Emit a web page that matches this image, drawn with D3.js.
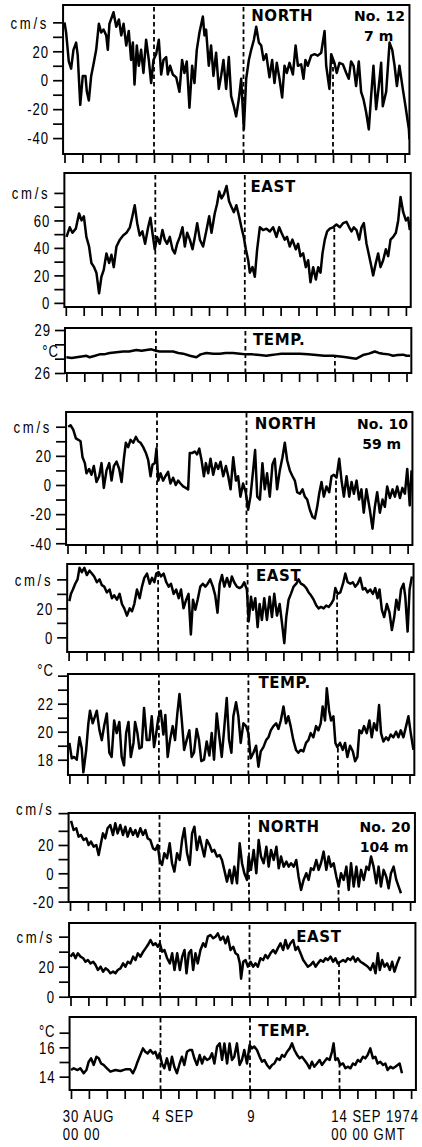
<!DOCTYPE html>
<html>
<head>
<meta charset="utf-8">
<script src="https://cdn.jsdelivr.net/npm/d3@7"></script>
<style>
  body { margin: 0; background: #fff; }
  svg { display: block; }
  .num { font-family: "Liberation Sans", Arial, sans-serif; font-size: 16px; letter-spacing: 1.2px; fill: #000; }
  .unit { letter-spacing: 3.3px; }
  .lab { font-family: "DejaVu Sans", sans-serif; font-weight: bold; font-size: 15px; letter-spacing: 0.6px; fill: #000; }
  .moor { font-family: "DejaVu Sans", sans-serif; font-weight: bold; font-size: 14px; fill: #000; }
</style>
</head>
<body>
<div id="chart"></div>
<script>
// time in days since 30 Aug 1974 00:00 GMT, value in cm/s or deg C

var n12North = [[0,40],[0.09,33],[0.24,13],[0.37,8],[0.50,21],[0.65,26],[0.74,17],[0.88,-17],[1.02,3],[1.17,3],[1.25,-8],[1.36,-14],[1.49,3],[1.62,11],[1.77,21],[1.92,39],[2.05,33],[2.18,35],[2.33,31],[2.42,21],[2.51,39],[2.74,47],[2.89,37],[3.04,42],[3.17,31],[3.30,39],[3.45,24],[3.59,34],[3.72,14],[3.82,26],[3.91,-3],[4.04,24],[4.15,10],[4.28,21],[4.41,5],[4.56,28],[4.71,14],[4.84,-2],[4.97,14],[5.12,18],[5.27,28],[5.40,4],[5.53,14],[5.68,16],[5.77,4],[5.90,10],[6.05,4],[6.24,2],[6.42,-8],[6.57,14],[6.70,5],[6.83,13],[6.98,-19],[7.13,10],[7.26,-2],[7.39,21],[7.54,33],[7.73,44],[7.82,31],[7.91,35],[8.06,10],[8.19,24],[8.32,3],[8.47,19],[8.62,-6],[8.75,3],[8.88,14],[9.03,-6],[9.18,16],[9.31,-11],[9.44,-17],[9.59,-25],[9.74,-13],[9.87,1],[10.02,-34],[10.15,1],[10.30,14],[10.43,21],[10.58,28],[10.71,37],[10.86,26],[10.99,24],[11.12,14],[11.27,18],[11.45,2],[11.60,14],[11.73,-2],[11.86,12],[12.01,1],[12.16,-12],[12.29,10],[12.42,5],[12.57,12],[12.76,4],[12.91,24],[13.04,10],[13.22,11],[13.35,1],[13.46,14],[13.59,10],[13.78,17],[13.97,18],[14.15,17],[14.34,19],[14.53,34],[14.62,10],[14.80,-6],[14.90,18],[15.08,12],[15.21,5],[15.36,12],[15.55,11],[15.74,5],[15.88,1],[16.01,13],[16.15,10],[16.29,-4],[16.44,13],[16.57,-8],[16.70,-13],[16.85,-22],[17.00,-34],[17.13,-11],[17.26,10],[17.41,-20],[17.56,-4],[17.69,12],[17.78,-18],[17.97,-8],[18.16,26],[18.31,21],[18.44,10],[18.57,-4],[18.71,10],[18.90,-6],[19.05,-18],[19.24,-34],[19.27,-41]];

var n12East = [[0.04,48],[0.22,55],[0.37,51],[0.56,54],[0.74,65],[0.88,60],[1.01,63],[1.15,48],[1.30,41],[1.43,29],[1.58,26],[1.71,22],[1.86,7],[1.99,19],[2.12,24],[2.27,36],[2.42,29],[2.55,35],[2.68,26],[2.83,41],[3.02,46],[3.20,49],[3.39,51],[3.58,55],[3.72,63],[3.85,71],[3.99,58],[4.13,49],[4.28,52],[4.43,43],[4.60,55],[4.73,62],[4.84,51],[4.97,39],[5.10,48],[5.25,43],[5.40,53],[5.53,46],[5.66,43],[5.81,48],[5.96,39],[6.09,36],[6.22,43],[6.37,48],[6.52,55],[6.65,41],[6.78,51],[6.93,46],[7.08,39],[7.21,48],[7.34,58],[7.49,46],[7.67,41],[7.86,53],[8.01,63],[8.14,51],[8.32,65],[8.45,72],[8.57,81],[8.70,76],[8.83,79],[8.98,85],[9.12,74],[9.25,70],[9.39,66],[9.53,71],[9.68,63],[9.81,55],[9.94,48],[10.06,39],[10.19,31],[10.28,22],[10.43,26],[10.56,19],[10.69,39],[10.84,55],[11.02,53],[11.21,54],[11.40,52],[11.58,55],[11.77,48],[11.92,55],[12.05,51],[12.23,46],[12.36,48],[12.51,41],[12.66,46],[12.85,39],[12.98,43],[13.11,34],[13.26,36],[13.41,26],[13.54,31],[13.67,15],[13.82,26],[13.97,17],[14.10,26],[14.23,22],[14.34,36],[14.47,46],[14.60,52],[14.75,54],[14.93,55],[15.12,57],[15.31,55],[15.49,58],[15.68,59],[15.83,55],[15.96,52],[16.09,55],[16.24,53],[16.39,46],[16.52,55],[16.65,58],[16.80,43],[16.95,34],[17.08,26],[17.17,20],[17.32,29],[17.45,36],[17.58,26],[17.73,31],[17.88,39],[18.01,34],[18.14,46],[18.29,48],[18.44,51],[18.57,60],[18.70,77],[18.85,66],[19.00,60],[19.12,62],[19.22,53]];

var n12Temp = [[0,27.1],[0.3,27.05],[0.56,27.1],[0.85,27.15],[1.12,27.2],[1.30,27.1],[1.6,27.2],[1.86,27.3],[2.1,27.3],[2.42,27.4],[2.8,27.45],[3.17,27.5],[3.5,27.5],[3.91,27.6],[4.2,27.55],[4.47,27.6],[4.75,27.65],[5.0,27.55],[5.21,27.5],[5.6,27.5],[5.96,27.5],[6.25,27.4],[6.52,27.35],[6.9,27.2],[7.26,27.1],[7.5,27.3],[7.82,27.4],[8.2,27.35],[8.57,27.35],[8.9,27.4],[9.31,27.4],[9.7,27.35],[10.06,27.3],[10.4,27.3],[10.8,27.25],[11.17,27.2],[11.45,27.25],[11.73,27.3],[12.0,27.35],[12.29,27.35],[12.7,27.35],[13.04,27.35],[13.5,27.3],[13.97,27.25],[14.4,27.2],[14.9,27.2],[15.3,27.15],[15.64,27.1],[15.9,27.05],[16.2,27.0],[16.57,27.25],[16.9,27.35],[17.23,27.5],[17.45,27.4],[17.69,27.35],[18.0,27.3],[18.25,27.2],[18.5,27.25],[18.81,27.28],[19.0,27.2],[19.2,27.2]];

var n10North = [[0.04,40],[0.17,41],[0.32,38],[0.47,32],[0.61,31],[0.73,30],[0.84,19],[0.97,15],[1.06,8],[1.21,11],[1.34,7],[1.47,13],[1.62,2],[1.77,6],[1.90,15],[2.03,-2],[2.18,10],[2.33,15],[2.46,3],[2.59,13],[2.74,16],[2.89,11],[3.02,2],[3.15,18],[3.26,29],[3.39,26],[3.52,31],[3.67,29],[3.82,33],[3.95,30],[4.08,29],[4.23,26],[4.38,22],[4.51,17],[4.64,6],[4.75,14],[4.88,15],[4.97,25],[5.07,3],[5.20,8],[5.34,3],[5.47,6],[5.62,9],[5.75,1],[5.90,5],[6.05,0],[6.18,3],[6.31,1],[6.46,-1],[6.61,-2],[6.74,-3],[6.83,22],[6.98,22],[7.11,23],[7.24,21],[7.36,25],[7.49,17],[7.62,6],[7.73,15],[7.86,8],[7.99,18],[8.14,7],[8.29,15],[8.42,11],[8.55,16],[8.70,6],[8.85,13],[8.98,6],[9.11,-3],[9.26,19],[9.41,3],[9.53,6],[9.66,-8],[9.81,1],[9.96,-5],[10.09,-17],[10.22,-8],[10.37,10],[10.48,24],[10.60,-8],[10.75,-10],[10.89,15],[11.02,-3],[11.15,8],[11.30,-8],[11.45,14],[11.58,18],[11.71,-3],[11.86,10],[12.01,19],[12.14,29],[12.27,17],[12.42,10],[12.57,6],[12.70,3],[12.83,-5],[12.98,-6],[13.13,-3],[13.26,-8],[13.39,-10],[13.54,-17],[13.69,-22],[13.82,-23],[13.95,-15],[14.06,-6],[14.19,2],[14.32,-8],[14.47,-1],[14.62,-5],[14.75,6],[14.88,7],[15.03,5],[15.18,18],[15.31,3],[15.44,-8],[15.59,6],[15.74,-8],[15.87,2],[16.00,-6],[16.15,3],[16.29,-10],[16.42,-3],[16.55,-19],[16.70,-3],[16.89,-17],[17.04,-30],[17.17,-15],[17.30,-5],[17.45,-19],[17.60,-10],[17.73,-15],[17.86,-1],[18.01,-9],[18.16,-3],[18.29,-8],[18.42,-1],[18.57,-9],[18.71,-2],[18.85,-6],[18.98,11],[19.12,-14],[19.22,10]];

var n10East = [[0.04,25],[0.13,30],[0.24,33],[0.37,37],[0.50,40],[0.61,48],[0.74,45],[0.88,48],[1.02,43],[1.17,46],[1.30,44],[1.43,42],[1.58,38],[1.73,40],[1.86,36],[1.99,35],[2.14,31],[2.29,33],[2.42,27],[2.55,29],[2.70,26],[2.85,30],[2.98,23],[3.11,20],[3.26,15],[3.41,20],[3.54,18],[3.67,23],[3.82,33],[3.97,27],[4.10,35],[4.23,41],[4.38,44],[4.53,37],[4.66,41],[4.79,38],[4.90,44],[5.03,45],[5.16,42],[5.31,44],[5.46,38],[5.59,35],[5.72,37],[5.87,30],[6.01,33],[6.15,27],[6.28,33],[6.42,20],[6.57,26],[6.70,30],[6.83,2],[6.95,26],[7.08,19],[7.21,26],[7.36,35],[7.50,37],[7.64,35],[7.77,37],[7.91,40],[8.06,35],[8.19,29],[8.32,17],[8.44,37],[8.57,43],[8.70,35],[8.85,41],[9.00,35],[9.12,42],[9.25,38],[9.40,35],[9.55,34],[9.68,35],[9.81,38],[9.96,33],[10.06,11],[10.19,28],[10.30,19],[10.43,27],[10.56,7],[10.67,23],[10.80,12],[10.93,27],[11.08,12],[11.23,28],[11.36,14],[11.49,30],[11.64,15],[11.79,23],[11.92,10],[12.05,-4],[12.16,14],[12.29,26],[12.42,30],[12.57,35],[12.72,37],[12.85,40],[12.98,37],[13.13,36],[13.28,34],[13.41,31],[13.54,29],[13.69,26],[13.84,22],[13.97,20],[14.10,21],[14.25,20],[14.39,22],[14.53,21],[14.66,23],[14.80,26],[14.90,34],[15.03,30],[15.18,31],[15.33,37],[15.46,44],[15.59,38],[15.74,37],[15.88,38],[16.01,35],[16.15,37],[16.29,41],[16.44,33],[16.57,34],[16.70,31],[16.85,33],[17.00,30],[17.13,34],[17.26,27],[17.37,33],[17.50,19],[17.63,14],[17.78,23],[17.93,17],[18.06,5],[18.19,14],[18.31,26],[18.44,19],[18.57,33],[18.71,37],[18.81,28],[18.94,4],[19.05,33],[19.18,42]];

var n10Temp = [[0,19.2],[0.13,18.1],[0.26,18.2],[0.41,18.0],[0.56,19.6],[0.69,18.8],[0.78,17.1],[0.93,18.6],[1.06,20.6],[1.15,21.5],[1.30,20.6],[1.43,21.1],[1.53,21.5],[1.68,20.1],[1.81,19.4],[1.94,20.4],[2.09,21.3],[2.23,18.5],[2.36,18.2],[2.50,20.8],[2.64,19.9],[2.79,20.7],[2.92,18.2],[3.05,17.6],[3.17,19.9],[3.30,20.7],[3.43,18.2],[3.58,19.2],[3.67,20.7],[3.80,19.9],[3.91,18.8],[4.04,18.9],[4.17,21.7],[4.32,19.4],[4.47,19.4],[4.60,21.1],[4.73,18.9],[4.84,19.8],[4.97,21.0],[5.10,21.5],[5.25,19.8],[5.36,21.2],[5.49,18.2],[5.62,19.4],[5.77,20.4],[5.90,19.4],[6.03,21.3],[6.15,22.7],[6.28,20.8],[6.41,18.7],[6.55,19.4],[6.70,20.1],[6.83,18.2],[6.96,18.5],[7.11,20.2],[7.24,19.4],[7.37,17.9],[7.52,18.0],[7.67,19.3],[7.82,18.3],[7.95,19.9],[8.08,18.0],[8.23,21.3],[8.38,19.6],[8.51,18.2],[8.64,20.1],[8.79,22.4],[8.92,19.4],[9.05,18.5],[9.16,21.1],[9.31,22.1],[9.44,21.1],[9.57,19.2],[9.72,20.6],[9.87,20.4],[10.00,19.9],[10.13,18.1],[10.28,18.5],[10.43,19.0],[10.56,17.5],[10.69,18.6],[10.84,18.9],[10.99,19.4],[11.12,19.6],[11.25,20.1],[11.40,20.4],[11.55,20.6],[11.68,20.2],[11.81,20.8],[11.96,21.8],[12.10,20.6],[12.23,21.1],[12.36,20.4],[12.51,19.4],[12.66,18.7],[12.79,18.5],[12.92,18.7],[13.07,18.6],[13.22,19.2],[13.35,19.4],[13.48,19.9],[13.63,19.6],[13.78,20.4],[13.91,20.1],[14.04,20.6],[14.15,21.8],[14.28,20.8],[14.38,23.1],[14.51,21.5],[14.62,20.8],[14.75,21.1],[14.86,19.2],[14.97,18.9],[15.12,19.2],[15.27,18.7],[15.40,19.2],[15.53,18.2],[15.68,19.0],[15.83,18.6],[15.96,17.9],[16.09,18.2],[16.20,20.1],[16.33,19.9],[16.46,20.4],[16.61,19.9],[16.76,20.8],[16.89,19.6],[17.02,20.6],[17.17,20.1],[17.30,21.9],[17.41,19.9],[17.54,19.3],[17.69,19.6],[17.82,19.4],[17.95,19.8],[18.10,19.6],[18.25,20.0],[18.38,19.6],[18.51,20.1],[18.66,19.6],[18.81,20.4],[18.94,21.1],[19.07,19.9],[19.22,18.7]];

var n20North = [[0.06,37],[0.20,30.6],[0.35,31.8],[0.48,25.9],[0.61,27.1],[0.76,23.5],[0.91,24.7],[1.04,20],[1.17,22.4],[1.32,18.8],[1.47,20],[1.60,12.9],[1.73,21.2],[1.84,28.2],[1.97,24.7],[2.10,31.8],[2.25,34.1],[2.40,27.1],[2.53,35.3],[2.66,28.2],[2.81,34.1],[2.96,27.1],[3.09,32.9],[3.22,25.9],[3.37,31.8],[3.52,27.1],[3.65,30.6],[3.78,25.9],[3.93,31.8],[4.08,27.1],[4.21,30.6],[4.34,24.7],[4.49,23.5],[4.64,17.6],[4.77,16.5],[4.90,20],[5.01,9.4],[5.14,5.9],[5.27,14.1],[5.42,10.6],[5.57,21.2],[5.70,7.1],[5.83,1.2],[5.98,14.1],[6.13,9.4],[6.26,23.5],[6.39,31.8],[6.54,14.1],[6.69,5.9],[6.82,28.2],[6.95,32.9],[7.09,16.5],[7.24,25.9],[7.37,18.8],[7.50,11.8],[7.65,23.5],[7.80,20],[7.93,15.3],[8.06,16.5],[8.21,11.8],[8.36,12.9],[8.49,9.4],[8.62,2.4],[8.77,-5.9],[8.92,2.4],[9.05,-7.1],[9.18,4.7],[9.33,-7.1],[9.48,21.2],[9.61,7.1],[9.74,0],[9.89,-4.7],[9.98,11.8],[10.11,2.4],[10.26,16.5],[10.41,0],[10.54,23.5],[10.67,11.8],[10.82,7.1],[10.97,18.8],[11.10,4.7],[11.23,16.5],[11.38,9.4],[11.53,18.8],[11.66,3.5],[11.79,11.8],[11.94,4.7],[12.09,8.2],[12.22,4.7],[12.35,7.1],[12.50,4.7],[12.64,9.4],[12.77,-2.4],[12.91,-11.8],[13.05,-4.7],[13.20,0],[13.33,-4.7],[13.46,3.5],[13.61,2.4],[13.76,9.4],[13.89,2.4],[14.02,7.1],[14.17,15.3],[14.32,2.4],[14.45,11.8],[14.58,4.7],[14.73,7.1],[14.88,-2.4],[15.01,-9.4],[15.14,0],[15.29,-4.7],[15.44,4.7],[15.57,-11.8],[15.70,7.1],[15.85,-9.4],[16.00,4.7],[16.13,-9.4],[16.26,2.4],[16.41,-4.7],[16.56,4.7],[16.69,2.4],[16.82,11.8],[16.96,4.7],[17.11,-7.1],[17.24,4.7],[17.37,-9.4],[17.52,2.4],[17.67,-2.4],[17.80,-10.6],[17.93,0],[18.08,4.7],[18.23,-4.7],[18.36,-9.4],[18.49,-14.1]];

var n20East = [[0,26.7],[0.15,28.9],[0.28,25.6],[0.41,28.9],[0.56,26.7],[0.71,25.6],[0.84,23.3],[0.97,24.4],[1.12,22.2],[1.27,23.3],[1.40,21.1],[1.53,17.8],[1.68,20],[1.82,16.7],[1.96,18.9],[2.09,17.8],[2.23,15.6],[2.38,16.7],[2.51,15.6],[2.64,17.8],[2.79,18.9],[2.94,22.2],[3.07,20],[3.20,23.3],[3.35,22.2],[3.50,26.7],[3.63,24.4],[3.76,28.9],[3.91,26.7],[4.06,30],[4.19,32.2],[4.32,34.4],[4.47,37.8],[4.62,34.4],[4.75,35.6],[4.88,33.3],[4.99,35.6],[5.12,30],[5.25,31.1],[5.40,25.6],[5.55,22.2],[5.68,28.9],[5.81,17.8],[5.96,28.9],[6.11,17.8],[6.24,26.7],[6.37,31.1],[6.48,15.6],[6.61,28.9],[6.74,31.1],[6.85,17.8],[6.98,28.9],[7.11,22.2],[7.26,31.1],[7.41,35.6],[7.54,33.3],[7.67,40],[7.82,41.1],[7.97,38.9],[8.10,40],[8.23,42.2],[8.38,37.8],[8.53,40],[8.66,35.6],[8.79,40],[8.94,31.1],[9.09,33.3],[9.22,28.9],[9.35,27.8],[9.46,22.2],[9.53,12],[9.65,23.3],[9.78,24.4],[9.91,20],[10.06,23.3],[10.20,20],[10.34,22.2],[10.47,20],[10.61,25.6],[10.76,24.4],[10.89,27.8],[11.02,25.6],[11.17,28.9],[11.32,31.1],[11.45,28.9],[11.58,32.2],[11.73,35.6],[11.88,31.1],[12.01,37.8],[12.14,32.2],[12.29,35.6],[12.44,37.8],[12.57,31.1],[12.70,33.3],[12.85,28.9],[13.00,24.4],[13.13,22.2],[13.26,20],[13.41,21.1],[13.56,23.3],[13.69,20],[13.82,22.2],[13.97,24.4],[14.12,23.3],[14.25,25.6],[14.38,24.4],[14.53,26.7],[14.67,23.3],[14.80,25.6],[14.93,22.2],[15.08,23.3],[15.23,24.4],[15.36,23.3],[15.49,25.6],[15.64,24.4],[15.79,26.7],[15.92,23.3],[16.05,25.6],[16.20,23.3],[16.35,22.2],[16.48,21.1],[16.61,20],[16.76,17.8],[16.91,22.2],[17.04,15.6],[17.17,28.9],[17.28,17.8],[17.41,24.4],[17.54,20],[17.69,22.2],[17.84,17.8],[17.97,23.3],[18.10,16.7],[18.25,22.2],[18.40,26.7]];

var n20Temp = [[0,14.45],[0.15,14.57],[0.37,14.45],[0.52,14.57],[0.71,14.23],[0.86,14.45],[0.99,15.02],[1.12,15.25],[1.27,14.8],[1.42,15.36],[1.55,15.25],[1.68,14.9],[1.82,14.8],[2.01,14.57],[2.20,14.34],[2.48,14.45],[2.76,14.39],[3.04,14.5],[3.31,14.5],[3.46,14.23],[3.59,14.57],[3.72,15.02],[3.87,15.48],[4.02,15.93],[4.15,15.7],[4.28,15.59],[4.43,15.82],[4.58,15.59],[4.71,15.7],[4.84,15.25],[4.95,15.59],[5.08,14.9],[5.21,14.57],[5.36,15.25],[5.51,14.45],[5.64,15.36],[5.77,14.68],[5.92,14.23],[6.07,14.9],[6.20,15.36],[6.33,14.8],[6.48,15.7],[6.63,15.82],[6.76,15.82],[6.89,15.25],[7.04,14.8],[7.19,15.48],[7.32,14.9],[7.45,15.36],[7.60,15.14],[7.75,15.25],[7.88,15.59],[8.01,14.9],[8.16,16.05],[8.31,16.27],[8.44,15.14],[8.57,16.27],[8.72,14.9],[8.86,16.27],[8.99,15.14],[9.12,15.36],[9.27,16.27],[9.42,14.8],[9.55,15.14],[9.68,15.82],[9.83,14.9],[9.98,16.16],[10.11,15.93],[10.24,16.05],[10.39,15.82],[10.54,15.36],[10.67,15.02],[10.80,15.14],[10.95,14.8],[11.10,14.57],[11.23,14.8],[11.36,14.9],[11.51,15.25],[11.66,15.14],[11.79,15.48],[11.92,15.36],[12.07,15.7],[12.22,15.93],[12.35,16.27],[12.48,15.82],[12.63,15.48],[12.77,15.25],[12.90,15.36],[13.04,15.14],[13.18,14.9],[13.33,14.57],[13.46,15.02],[13.59,14.68],[13.74,14.9],[13.89,15.14],[14.02,14.8],[14.15,15.02],[14.30,15.25],[14.45,15.14],[14.58,15.7],[14.67,16.27],[14.77,15.14],[14.90,15.25],[15.05,14.8],[15.20,14.9],[15.33,14.57],[15.46,14.68],[15.61,14.57],[15.75,14.9],[15.88,14.8],[16.02,15.14],[16.16,15.02],[16.31,15.36],[16.44,15.25],[16.57,15.48],[16.72,15.93],[16.87,15.25],[17.00,15.36],[17.13,14.9],[17.28,15.02],[17.43,14.8],[17.56,14.9],[17.69,14.45],[17.84,14.68],[17.99,14.57],[18.12,14.68],[18.25,14.8],[18.36,14.9],[18.49,14.23]];

// axis ticks and labels
var ticksN12North = [-40,-30,-20,-10,0,10,20,30,40];
var labelsN12North = ["-40","","-20","","0","","20","","cm/s"];
var ticksN12East = [0,10,20,30,40,50,60,70,80];
var labelsN12East = ["0","","20","","40","","60","","cm/s"];
var ticksN12Temp = [26,27,28,29];
var labelsN12Temp = ["26","","","29"];
var ticksN10North = [-40,-30,-20,-10,0,10,20,30,40];
var labelsN10North = ["-40","","-20","","0","","20","","cm/s"];
var ticksN10East = [0,10,20,30,40];
var labelsN10East = ["0","","20","","cm/s"];
var ticksN10Temp = [18,19,20,21,22,23,24];
var labelsN10Temp = ["18","","20","","22","","°C"];
var ticksN20North = [-20,-10,0,10,20,30,42.5];
var labelsN20North = ["-20","","0","","20","","cm/s"];
var ticksN20East = [0,10,20,30,40];
var labelsN20East = ["0","","20","","cm/s"];
var ticksN20Temp = [14,15,16,17];
var labelsN20Temp = ["14","","16","°C"];

var componentNames = ["NORTH","EAST","TEMP.","NORTH","EAST","TEMP.","NORTH","EAST","TEMP."];
var mooringNames = ["No. 12","No. 10","No. 20"];
var mooringDepths = ["7 m","59 m","104 m"];

var dayTicks = d3.range(0, 20);
var dashDays = [5, 10, 15];
var dateDays = [0, 5, 10, 15];
var dateLine1 = ["30 AUG","4 SEP","9","14 SEP 1974"];
var dateLine2 = ["00 00","","","00 00 GMT"];

var svgWidth = 422;
var svgHeight = 1147;
var pxPerDay = 17.9;
var dayMin = -0.08;
var dayMax = 19.27;
var narrow = 0.82;   // the figure's lettering is a condensed face

// panel layout (the scanned figure leans a little, so x0 drifts down the page)
var panels = [
  {data: n12North, ticks: ticksN12North, labels: labelsN12North, top: 5,    bottom: 154,  x0: 64.5, lo: -51,   hi: 52,    nameDx: 7.7,  nameDy: 16,   unitShift: 0},
  {data: n12East,  ticks: ticksN12East,  labels: labelsN12East,  top: 173,  bottom: 307,  x0: 65.8, lo: -3,    hi: 94.5,  nameDx: 5.7,  nameDy: 18.7, unitShift: 0},
  {data: n12Temp,  ticks: ticksN12Temp,  labels: labelsN12Temp,  top: 328,  bottom: 373,  x0: 66.4, lo: 26,    hi: 29.14, nameDx: 7.6,  nameDy: 17,   unitShift: 0, unitAt: 27.55},
  {data: n10North, ticks: ticksN10North, labels: labelsN10North, top: 412,  bottom: 545,  x0: 67.5, lo: -41.2, hi: 50.1,  nameDx: 8.3,  nameDy: 17,   unitShift: 0},
  {data: n10East,  ticks: ticksN10East,  labels: labelsN10East,  top: 564,  bottom: 652,  x0: 68.6, lo: -10.1, hi: 50.6,  nameDx: 8.4,  nameDy: 16.7, unitShift: 0},
  {data: n10Temp,  ticks: ticksN10Temp,  labels: labelsN10Temp,  top: 674,  bottom: 775,  x0: 69.4, lo: 16.91, hi: 24.12, nameDx: 10,   nameDy: 13.7, unitShift: -6},
  {data: n20North, ticks: ticksN20North, labels: labelsN20North, top: 813,  bottom: 902,  x0: 70,   lo: -20.3, hi: 42.6,  nameDx: 8.7,  nameDy: 18.7, unitShift: -4},
  {data: n20East,  ticks: ticksN20East,  labels: labelsN20East,  top: 923,  bottom: 997,  x0: 70.5, lo: -0.2,  hi: 49.1,  nameDx: 46.7, nameDy: 18.7, unitShift: 0},
  {data: n20Temp,  ticks: ticksN20Temp,  labels: labelsN20Temp,  top: 1017, bottom: 1090, x0: 71,   lo: 13.09, hi: 18.07, nameDx: 8.3,  nameDy: 18.7, unitShift: -1.5}
];

var svg = d3.select("#chart")
  .append("svg")
  .attr("width", svgWidth)
  .attr("height", svgHeight);

var bisectDay = d3.bisector(d => d[0]).left;
function valueAt(data, t) {
  var i = Math.max(1, Math.min(data.length - 1, bisectDay(data, t)));
  var a = data[i - 1], b = data[i];
  return a[1] + (b[1] - a[1]) * (t - a[0]) / (b[0] - a[0]);
}

// condensed text: squeeze horizontally around the anchor point
function narrowText(sel, x, y) {
  return sel.attr("x", 0).attr("y", 0)
    .attr("transform", `translate(${x},${y}) scale(${narrow},1)`);
}

var lastX;

panels.forEach(function(p, i) {
  var x = d3.scaleLinear()
    .domain([dayMin, dayMax])
    .range([p.x0 + dayMin * pxPerDay, p.x0 + dayMax * pxPerDay]);
  var y = d3.scaleLinear()
    .domain([p.lo, p.hi])
    .range([p.bottom, p.top]);
  lastX = x;

  var g = svg.append("g");

  g.append("clipPath")
    .attr("id", "clip" + i)
    .append("rect")
    .attr("x", x(dayMin))
    .attr("y", p.top)
    .attr("width", x(dayMax) - x(dayMin))
    .attr("height", p.bottom - p.top);

  // dashed day markers: 4 Sep and 9 Sep full height, 14 Sep only up to the trace
  g.selectAll(".dash")
    .data(dashDays)
    .enter()
    .append("line")
    .attr("x1", d => x(d))
    .attr("x2", d => x(d))
    .attr("y1", p.bottom)
    .attr("y2", d => d === 15 ? y(valueAt(p.data, d)) : p.top)
    .attr("stroke", "#000")
    .attr("stroke-width", 1.8)
    .attr("stroke-dasharray", "4.5,3");

  var line = d3.line()
    .x(d => x(d[0]))
    .y(d => y(d[1]));

  g.append("path")
    .datum(p.data)
    .attr("clip-path", "url(#clip" + i + ")")
    .attr("d", line)
    .attr("fill", "none")
    .attr("stroke", "#000")
    .attr("stroke-width", 2.5)
    .attr("stroke-linejoin", "round");

  g.append("rect")
    .attr("x", x(dayMin))
    .attr("y", p.top)
    .attr("width", x(dayMax) - x(dayMin))
    .attr("height", p.bottom - p.top)
    .attr("fill", "none")
    .attr("stroke", "#000")
    .attr("stroke-width", 2);

  // left axis
  var leftAxis = d3.axisLeft(y)
    .tickValues(p.ticks)
    .tickSize(10)
    .tickPadding(4)
    .tickFormat((d, k) => p.labels[k]);

  var ya = g.append("g")
    .attr("transform", `translate(${x(dayMin)},0)`)
    .call(leftAxis);
  ya.select(".domain").remove();
  ya.selectAll("line").attr("stroke-width", 1.7);
  ya.selectAll("text")
    .attr("class", "num")
    .attr("dy", "0.36em")
    .classed("unit", function() { return d3.select(this).text() === "cm/s"; })
    .each(function() {
      var t = d3.select(this).text();
      var isUnit = t === "cm/s" || t === "°C";
      d3.select(this).call(narrowText, -14, isUnit ? p.unitShift : 0);
    });

  if (p.unitAt !== undefined) {
    g.append("text")
      .attr("class", "num")
      .attr("text-anchor", "end")
      .attr("dy", "0.36em")
      .text("°C")
      .call(narrowText, x(dayMin) - 6, y(p.unitAt));
  }

  // day ticks under the panel
  var bottomAxis = d3.axisBottom(x)
    .tickValues(dayTicks)
    .tickSize(9)
    .tickFormat("");

  var xa = g.append("g")
    .attr("transform", `translate(0, ${p.bottom})`)
    .call(bottomAxis);
  xa.select(".domain").remove();
  xa.selectAll("line").attr("stroke-width", 1.7);

  g.append("text")
    .attr("class", "lab")
    .attr("x", x(10) + p.nameDx)
    .attr("y", p.top + p.nameDy)
    .text(componentNames[i]);

  if (i % 3 === 0) {
    var m = i / 3;
    g.append("text")
      .attr("class", "moor")
      .attr("text-anchor", "middle")
      .attr("x", x(17.6))
      .attr("y", p.top + p.nameDy)
      .text(mooringNames[m]);
    g.append("text")
      .attr("class", "moor")
      .attr("text-anchor", "middle")
      .attr("x", x(17.55))
      .attr("y", p.top + p.nameDy + 20)
      .text(mooringDepths[m]);
  }
});

// date labels under the last panel
var dateGroup = svg.append("g");
dateGroup.selectAll(".d1")
  .data(dateDays)
  .enter()
  .append("text")
  .attr("class", "num")
  .attr("text-anchor", (d, k) => dateLine1[k] === "9" ? "middle" : "start")
  .text((d, k) => dateLine1[k])
  .each(function(d, k) {
    var xx = dateLine1[k] === "9" ? lastX(d) + 1.5 : lastX(d) - 8.3;
    d3.select(this).call(narrowText, xx, 1121.7);
  });

dateGroup.selectAll(".d2")
  .data(dateDays)
  .enter()
  .append("text")
  .attr("class", "num")
  .text((d, k) => dateLine2[k])
  .each(function(d) {
    d3.select(this).call(narrowText, lastX(d) - 8.3, 1140);
  });
</script>
</body>
</html>
